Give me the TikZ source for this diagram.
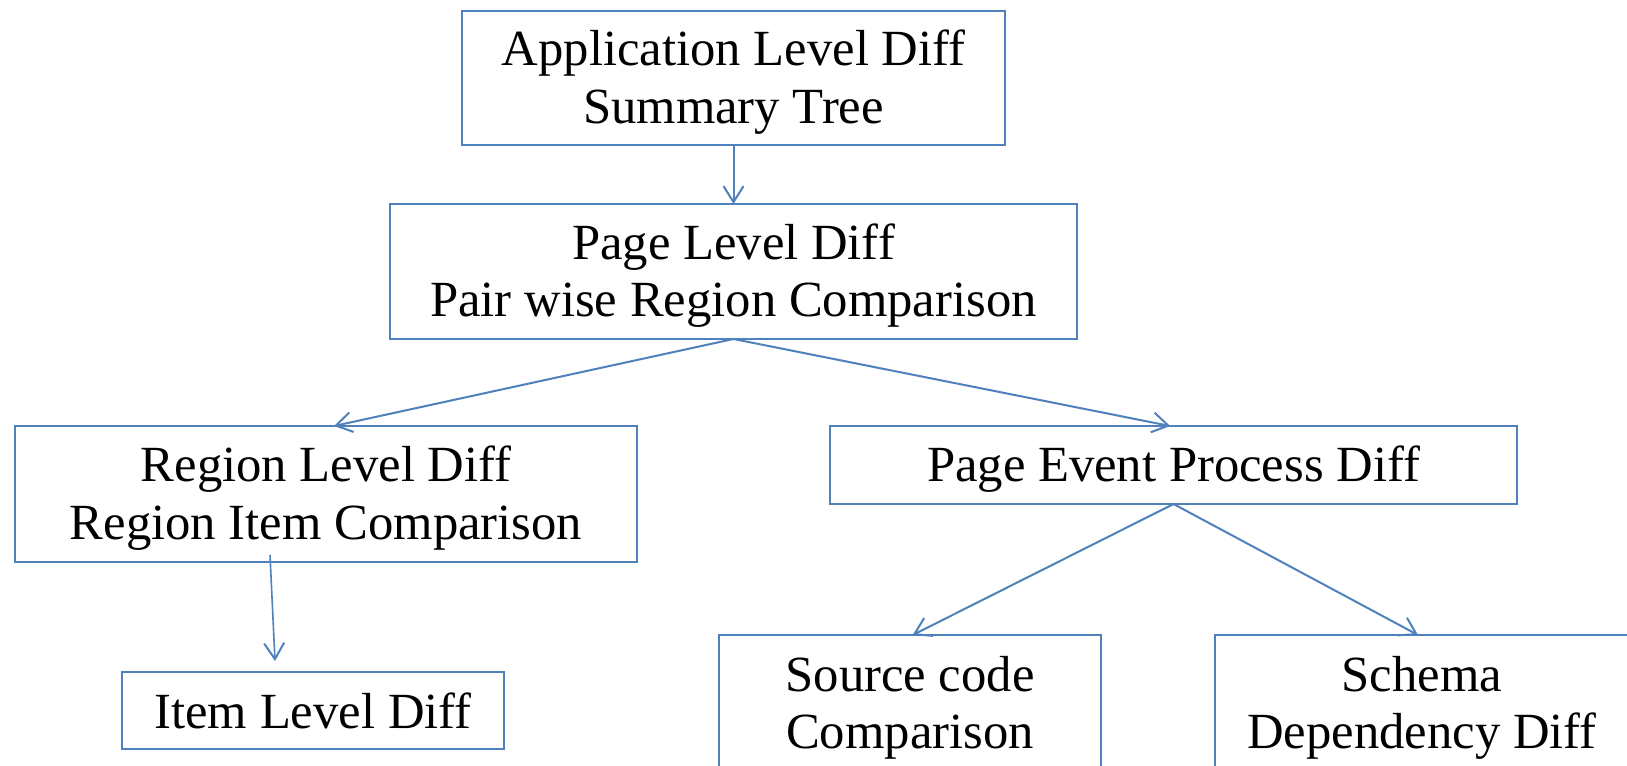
\documentclass[tikz,border=0pt]{standalone}
\usepackage{fontspec}
\setmainfont{Liberation Serif}
\usetikzlibrary{arrows.meta}
\definecolor{boxblue}{RGB}{79,129,189}
\tikzset{
  diffbox/.style={draw=boxblue, line width=1.9pt, fill=white, inner sep=0pt, outer sep=0pt},
  difftext/.style={inner sep=0pt, align=center, font=\fontsize{38}{43}\selectfont},
  link/.style={draw=boxblue, line width=1.5pt, -{Straight Barb[length=12pt,width=15pt,line width=1.5pt]}}
}
\begin{document}
\begin{tikzpicture}[x=0.75pt, y=-0.75pt]
  \useasboundingbox (0,0) rectangle (1627,766);
  \clip (0,0) rectangle (1627,766);
  \fill[white] (0,0) rectangle (1627,766);

  % boxes
  \node[diffbox, minimum width=407.25pt, minimum height=100.5pt] (app) at (733.5,78) {};
  \node[diffbox, minimum width=515.25pt, minimum height=101.25pt] (page) at (733.5,271.5) {};
  \node[diffbox, minimum width=466.5pt, minimum height=102pt] (region) at (326,494) {};
  \node[diffbox, minimum width=515.25pt, minimum height=58.5pt] (event) at (1173.5,465) {};
  \node[diffbox, minimum width=286.5pt, minimum height=57.75pt] (item) at (313,710.5) {};
  \node[diffbox, minimum width=286.5pt, minimum height=103.5pt] (source) at (910,704) {};
  \node[diffbox, minimum width=310.5pt, minimum height=103.5pt] (schema) at (1422,704) {};

  % box captions
  \node[difftext] (appT) at ([yshift=-3pt]app.center) {Application Level Diff\\Summary Tree};
  \node[difftext] (pageT) at ([yshift=-3pt]page.center) {Page Level Diff\\Pair wise Region Comparison};
  \node[difftext] (regionT) at ([yshift=-3pt]region.center) {Region Level Diff\\Region Item Comparison};
  \node[difftext] (eventT) at ([yshift=-3pt]event.center) {Page Event Process Diff};
  \node[difftext] (itemT) at ([yshift=-0.5pt]item.center) {Item Level Diff};
  \node[difftext] (sourceT) at ([yshift=-3pt]source.center) {Source code\\Comparison};
  \node[difftext] (schemaT) at ([yshift=-3pt]schema.center) {Schema\\Dependency Diff};

  % connectors
  \draw[link] (app.south) -- (page.north);
  \draw[link] (page.south) -- ([xshift=6pt]region.north);
  \draw[link] (page.south) -- ([xshift=-2.5pt]event.north);
  \draw[link] (event.south) -- ([xshift=2pt]source.north);
  \draw[link] (event.south) -- ([xshift=-3pt]schema.north);
  \draw[link, line width=1.2pt] ([xshift=-42pt,yshift=5.25pt]region.south) -- ([xshift=-28.5pt,yshift=8.25pt]item.north);
\end{tikzpicture}
\end{document}
